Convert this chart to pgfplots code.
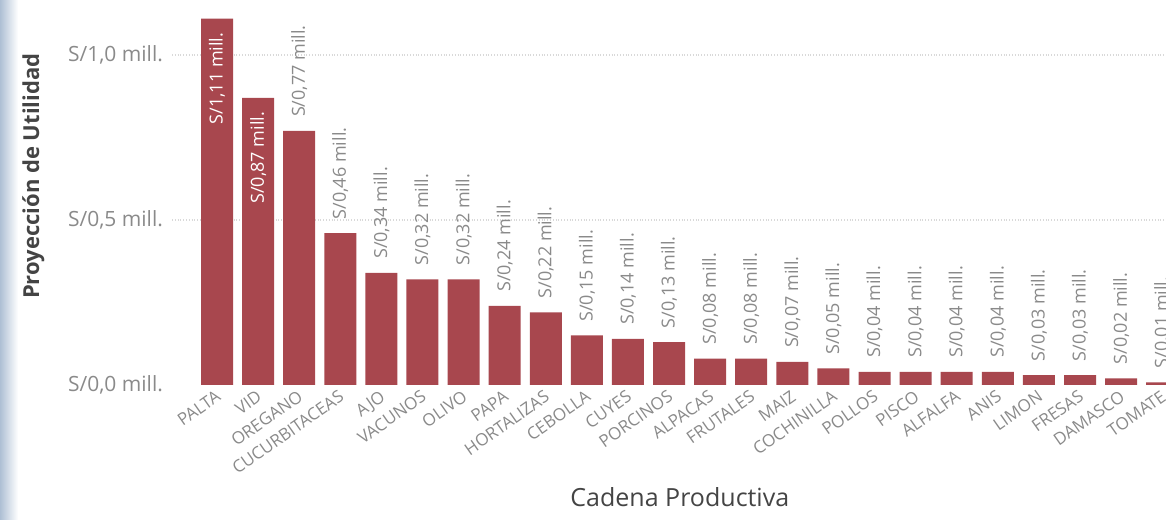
\documentclass[border=0pt]{standalone}
\usepackage{pgfplots}
\pgfplotsset{compat=1.18}
\usepackage{fontspec}
\setmainfont{Open Sans}

\definecolor{barred}{HTML}{A8474E}
\definecolor{ticktxt}{HTML}{8A8A8A}
\definecolor{titletxt}{HTML}{444444}
\definecolor{stripblue}{HTML}{AEBFD4}

\begin{document}
\begin{tikzpicture}
\useasboundingbox (0,0) rectangle (583pt,259.5pt);
\clip (0,0) rectangle (583pt,259.5pt);
\fill[left color=stripblue, right color=white] (0,0) rectangle (9pt,259.5pt);

\begin{axis}[
    at={(86pt,67pt)}, anchor=south west,
    scale only axis,
    width=514pt, height=189.75pt,
    xmin=-1.095, xmax=23.92,
    ymin=0, ymax=1.15,
    clip=false,
    axis line style={draw=none},
    major tick length=0pt,
    xtick={0,...,23},
    xticklabels={PALTA,VID,OREGANO,CUCURBITACEAS,AJO,VACUNOS,OLIVO,PAPA,HORTALIZAS,CEBOLLA,CUYES,PORCINOS,ALPACAS,FRUTALES,MAIZ,COCHINILLA,POLLOS,PISCO,ALFALFA,ANIS,LIMON,FRESAS,DAMASCO,TOMATE},
    xticklabel style={rotate=35, anchor=north east, font=\fontsize{8.5}{10}\selectfont, text=ticktxt, inner sep=1pt, xshift=-1pt},
    ytick={0,0.5,1},
    yticklabels={{{S/0,0 mill.}},{{S/0,5 mill.}},{{S/1,0 mill.}}},
    yticklabel style={font=\fontsize{10.5}{12}\selectfont, text=ticktxt, xshift=-1pt},
    ymajorgrids=true,
    grid style={densely dotted, line width=0.6pt, color=black!15},
    ylabel={Proyección de Utilidad},
    xlabel={Cadena Productiva},
    every axis y label/.style={at={(axis description cs:-0.135,0.55)}, rotate=90, anchor=center, font=\bfseries\fontsize{11}{13}\selectfont, text=titletxt},
    every axis x label/.style={at={(axis description cs:0.494,-0.295)}, anchor=center, font=\fontsize{12.5}{14}\selectfont, text=titletxt},
]
% white band hides the zero grid line
\addplot[draw=white, line width=1.2pt, mark=none, forget plot] coordinates {(-1.095,0) (23.92,0)};
% bars
\addplot[ybar, bar width=16pt, fill=barred, draw=none] coordinates {
    (0,1.11) (1,0.87) (2,0.77) (3,0.46) (4,0.34) (5,0.32) (6,0.32) (7,0.24)
    (8,0.22) (9,0.15) (10,0.14) (11,0.13) (12,0.08) (13,0.08) (14,0.07) (15,0.05)
    (16,0.04) (17,0.04) (18,0.04) (19,0.04) (20,0.03) (21,0.03) (22,0.02) (23,0.008)
};
% labels inside the two tallest bars
\addplot[draw=none, mark=none, point meta=explicit symbolic,
    nodes near coords,
    every node near coord/.style={rotate=90, anchor=east, outer xsep=7pt, inner sep=0pt,
        font=\fontsize{9}{10}\selectfont, text=white}]
    coordinates {(0,1.11) [S/1,11 mill.] (1,0.87) [S/0,87 mill.]};
% labels above the other bars
\addplot[draw=none, mark=none, point meta=explicit symbolic,
    nodes near coords,
    every node near coord/.style={rotate=90, anchor=west, outer xsep=7pt, inner sep=0pt,
        font=\fontsize{9}{10}\selectfont, text=ticktxt}]
    coordinates {
    (2,0.77) [S/0,77 mill.] (3,0.46) [S/0,46 mill.] (4,0.34) [S/0,34 mill.]
    (5,0.32) [S/0,32 mill.] (6,0.32) [S/0,32 mill.] (7,0.24) [S/0,24 mill.]
    (8,0.22) [S/0,22 mill.] (9,0.15) [S/0,15 mill.] (10,0.14) [S/0,14 mill.]
    (11,0.13) [S/0,13 mill.] (12,0.08) [S/0,08 mill.] (13,0.08) [S/0,08 mill.]
    (14,0.07) [S/0,07 mill.] (15,0.05) [S/0,05 mill.] (16,0.04) [S/0,04 mill.]
    (17,0.04) [S/0,04 mill.] (18,0.04) [S/0,04 mill.] (19,0.04) [S/0,04 mill.]
    (20,0.03) [S/0,03 mill.] (21,0.03) [S/0,03 mill.] (22,0.02) [S/0,02 mill.]
    (23,0.008) [S/0,01 mill.]
};
\end{axis}
\end{tikzpicture}
\end{document}
